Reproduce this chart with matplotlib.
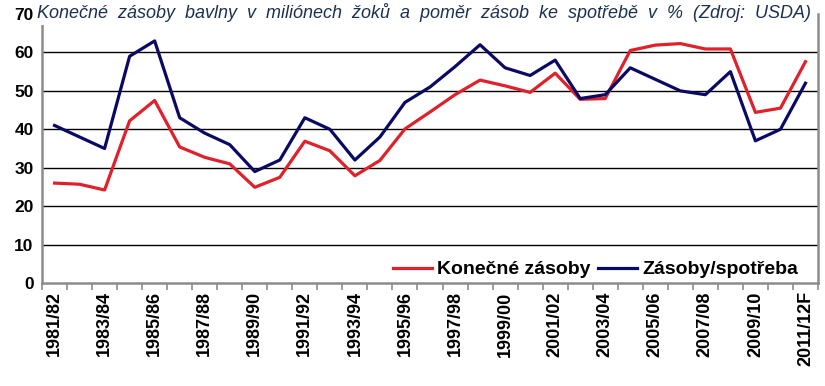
import matplotlib.pyplot as plt
import numpy as np

plt.rcParams["font.family"] = ["Liberation Sans", "DejaVu Sans"]

seasons = [
    "1981/82", "1982/83", "1983/84", "1984/85", "1985/86", "1986/87",
    "1987/88", "1988/89", "1989/90", "1990/91", "1991/92", "1992/93",
    "1993/94", "1994/95", "1995/96", "1996/97", "1997/98", "1998/99",
    "1999/00", "2000/01", "2001/02", "2002/03", "2003/04", "2004/05",
    "2005/06", "2006/07", "2007/08", "2008/09", "2009/10", "2010/11",
    "2011/12F",
]

konecne_zasoby = [
    26.0, 25.7, 24.2, 42.2, 47.5, 35.4, 32.7, 31.0, 24.9, 27.5,
    36.9, 34.4, 27.9, 31.9, 40.1, 44.5, 49.0, 52.8, 51.3, 49.6,
    54.6, 47.8, 48.0, 60.5, 61.9, 62.3, 60.9, 60.9, 44.4, 45.5,
    57.6,
]

zasoby_spotreba = [
    41, 38, 35, 59, 63, 43, 39, 36, 29, 32,
    43, 40, 32, 38, 47, 51, 56.3, 62, 56, 54,
    58, 48, 49, 56, 53, 50, 49, 55, 37, 40,
    52,
]

# wide word spacing as in the source graphic
title = "  ".join(
    "Konečné zásoby bavlny v miliónech žoků a poměr zásob ke "
    "spotřebě v % (Zdroj: USDA)".split(" ")
)

RED = "#e0202a"
NAVY = "#0a0a64"
GRAY = "#8c8c8c"


def main() -> None:
    fig = plt.figure(figsize=(8.25, 3.86), dpi=100)
    ax = fig.add_axes([42 / 825, 1 - 283 / 386, 776 / 825, 269 / 386])

    x = np.arange(len(seasons)) + 0.5

    ax.plot(x, konecne_zasoby, color=RED, lw=2.3, label="Konečné zásoby")
    ax.plot(x, zasoby_spotreba, color=NAVY, lw=2.3, label="Zásoby/spotřeba")

    ax.set_xlim(0, len(seasons))
    ax.set_ylim(0, 70)

    ax.set_yticks(range(0, 71, 10))
    for v in range(10, 61, 10):
        ax.axhline(v, color="black", lw=1.0, zorder=0)

    ax.set_xticks(np.arange(len(seasons) + 1), minor=True)
    ax.set_xticks(x[::2])
    ax.set_xticklabels(seasons[::2], rotation=90, fontsize=13,
                       fontweight="bold")
    ax.tick_params(axis="x", which="major", length=0, pad=6)
    ax.tick_params(axis="x", which="minor", length=5, color=GRAY,
                   width=1.2)
    ax.tick_params(axis="y", length=0, labelsize=12.5, pad=6)
    for lab in ax.get_yticklabels():
        lab.set_fontweight("bold")

    ax.spines["top"].set_visible(False)
    for side in ["left", "bottom", "right"]:
        ax.spines[side].set_color(GRAY)
        ax.spines[side].set_linewidth(1.8)

    ax.legend(
        loc="lower right",
        bbox_to_anchor=(0.984, -0.012),
        ncol=2,
        frameon=False,
        prop={"size": 14, "weight": "bold"},
        handlelength=2.0,
        handletextpad=0.25,
        columnspacing=0.4,
        borderaxespad=0.0,
    )

    fig.text(
        37 / 825,
        1 - 13 / 386,
        title,
        fontsize=13,
        style="italic",
        color="#1c3050",
        ha="left",
        va="center",
        bbox=dict(facecolor="white", edgecolor="none", pad=2),
    )

    fig.savefig("out.png", dpi=100)


if __name__ == "__main__":
    main()
